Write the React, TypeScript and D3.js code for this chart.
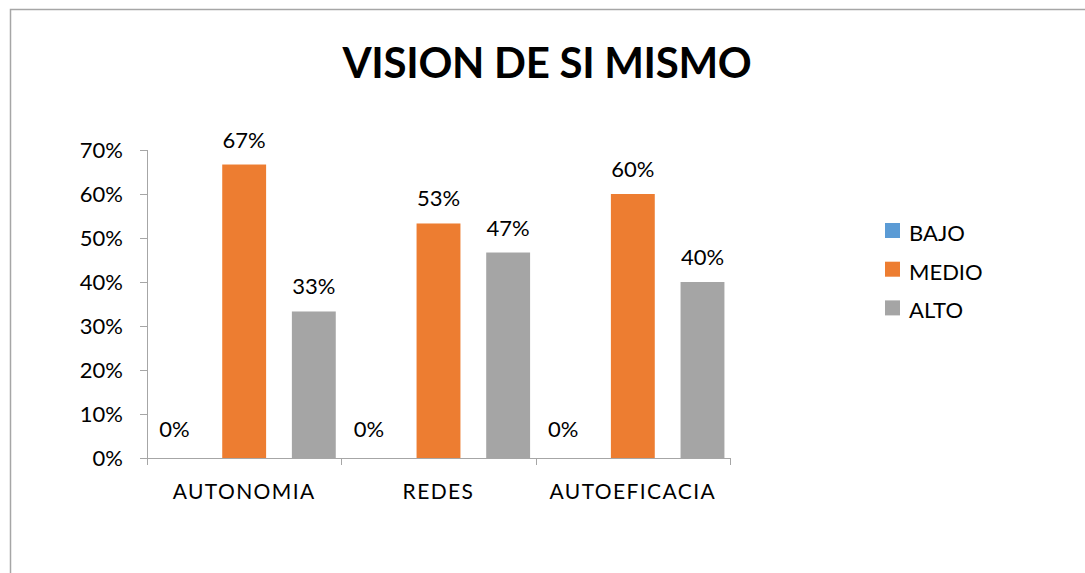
import * as d3 from "d3";

const categories = ["AUTONOMIA", "REDES", "AUTOEFICACIA"];
const seriesNames = ["BAJO", "MEDIO", "ALTO"];
const bajo = [0, 0, 0];
const medio = [0.667, 0.533, 0.6];
const alto = [0.333, 0.467, 0.4];
const yTicks = [0, 0.1, 0.2, 0.3, 0.4, 0.5, 0.6, 0.7];
const colors = ["#5B9BD5", "#ED7D31", "#A5A5A5"];

const W = 1085;
const H = 573;
const font = "Lato, 'Open Sans', sans-serif";

const App = () => {
    const values = [bajo, medio, alto];

    const x = d3.scaleBand().domain(categories).range([147, 730]).padding(0);
    const xInner = d3
        .scaleBand()
        .domain(seriesNames)
        .range([0, x.bandwidth()])
        .paddingInner(0.37)
        .paddingOuter(0.08);
    const y = d3.scaleLinear().domain([0, 0.7]).range([458, 150]);
    const fmt = d3.format(".0%");

    const bounds = [...categories.map((c) => x(c)), 730];

    return (
        <svg width={W} height={H} style={{ position: "absolute", left: 0, top: 0 }} fontFamily={font}>
            <rect x={0} y={0} width={W} height={H} fill="#fff" />
            {/* chart frame, cut off at right and bottom */}
            <rect x={10.5} y={9.5} width={W + 20} height={H + 20} fill="none" stroke="#a6a6a6" strokeWidth={1.5} />

            <text x={547} y={78} textAnchor="middle" fontSize={42} fontWeight="bold" letterSpacing={-0.3} fill="#000">
                VISION DE SI MISMO
            </text>

            {/* y axis */}
            <line x1={147.5} x2={147.5} y1={y(0.7)} y2={y(0)} stroke="#a6a6a6" />
            {yTicks.map((t) => (
                <g key={t}>
                    <line x1={140} x2={147.5} y1={Math.round(y(t)) + 0.5} y2={Math.round(y(t)) + 0.5} stroke="#a6a6a6" />
                    <text x={123} y={y(t) + 8} textAnchor="end" fontSize={22} fill="#000">
                        {fmt(t)}
                    </text>
                </g>
            ))}

            {/* bars */}
            {categories.map((c, i) => (
                <g key={c} transform={`translate(${x(c)},0)`}>
                    {seriesNames.map((s, j) => {
                        const v = values[j][i];
                        return (
                            <g key={s}>
                                <rect
                                    x={xInner(s)}
                                    y={y(v)}
                                    width={xInner.bandwidth()}
                                    height={y(0) - y(v)}
                                    fill={colors[j]}
                                />
                                <text
                                    x={(xInner(s) ?? 0) + xInner.bandwidth() / 2}
                                    y={y(v) - (v === 0 ? 21 : 17)}
                                    textAnchor="middle"
                                    fontSize={22}
                                    fill="#000"
                                >
                                    {fmt(v)}
                                </text>
                            </g>
                        );
                    })}
                </g>
            ))}

            {/* x axis */}
            <line x1={147} x2={730.5} y1={458.5} y2={458.5} stroke="#a6a6a6" />
            {bounds.map((b, i) => (
                <line key={i} x1={Math.round(b ?? 0) + 0.5} x2={Math.round(b ?? 0) + 0.5} y1={458} y2={465} stroke="#a6a6a6" />
            ))}
            {categories.map((c) => (
                <text
                    key={c}
                    x={(x(c) ?? 0) + x.bandwidth() / 2}
                    y={499}
                    textAnchor="middle"
                    fontSize={21}
                    letterSpacing={1.4}
                    fill="#000"
                >
                    {c}
                </text>
            ))}

            {/* legend */}
            {seriesNames.map((s, j) => (
                <g key={s} transform={`translate(885,${223 + j * 38.7})`}>
                    <rect x={0} y={0} width={15} height={15} fill={colors[j]} />
                    <text x={24} y={18} fontSize={22} fill="#000">
                        {s}
                    </text>
                </g>
            ))}
        </svg>
    );
};

export default App;
